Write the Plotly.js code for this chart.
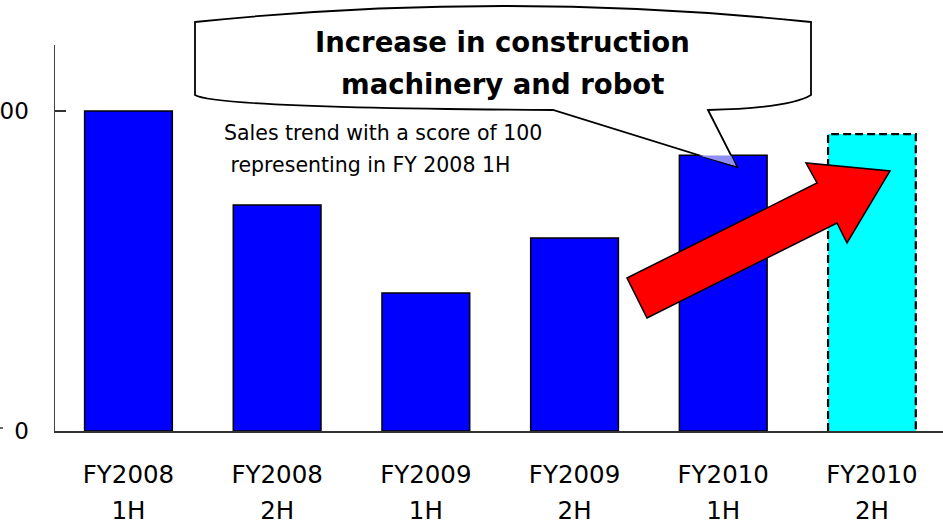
<!DOCTYPE html>
<html>
<head>
<meta charset="utf-8">
<script src="https://cdn.plot.ly/plotly-3.0.1.min.js"></script>
<style>html,body{margin:0;padding:0;background:#fff;}#chart{width:943px;height:523px;}</style>
</head>
<body>
<div id="chart"></div>
<script>
// ---- data ----
const periodYear = ["FY2008", "FY2008", "FY2009", "FY2009", "FY2010", "FY2010"];
const periodHalf = ["1H", "2H", "1H", "2H", "1H", "2H"];
const salesIndex = [100, 70.6, 43.1, 60.3, 86.2, 92.8];
const forecastFlag = [false, false, false, false, false, true];
const yTickVals = [0, 100];
const yTickText = ["0", "100"];
const calloutLines = ["Increase in construction", "machinery and robot"];
const noteLines = ["Sales trend with a score of 100", " representing in FY 2008 1H"];

// ---- layout helpers (pixel -> paper) ----
const L = 55, T = 45, W = 888, H = 386;
const X = px => (px - L) / W;
const Y = py => (T + H - py) / H;
const P = (px, py) => X(px).toFixed(5) + "," + Y(py).toFixed(5);

const idx = periodYear.map((_, i) => i);
const actualIdx = idx.filter(i => !forecastFlag[i]);
const fcIdx = idx.filter(i => forecastFlag[i]);
const BW = 0.59;
const XR = [-0.494, 5.478];

const font = "'DejaVu Sans', 'Noto Sans', sans-serif";

const traces = [
  {
    type: "bar",
    x: actualIdx,
    y: actualIdx.map(i => salesIndex[i]),
    width: BW,
    marker: { color: "#0000ff", line: { color: "#000000", width: 1.5 } },
    hoverinfo: "skip",
    showlegend: false
  },
  {
    type: "bar",
    x: fcIdx,
    y: fcIdx.map(i => salesIndex[i]),
    width: BW,
    marker: { color: "#00ffff", line: { width: 0 } },
    hoverinfo: "skip",
    showlegend: false
  }
];
// dashed outline of forecast bar, built from the same data
fcIdx.forEach(i => {
  const v = salesIndex[i];
  traces.push({
    type: "scatter",
    mode: "lines",
    x: [i - BW / 2, i - BW / 2, i + BW / 2, i + BW / 2],
    y: [0, v, v, 0],
    line: { color: "#000000", width: 2.2, dash: "8px,4px" },
    hoverinfo: "skip",
    showlegend: false,
    cliponaxis: false
  });
});
// invisible trace for the second-line label axis
traces.push({
  type: "scatter", mode: "markers", x: idx, y: salesIndex, xaxis: "x2",
  marker: { opacity: 0 }, hoverinfo: "skip", showlegend: false
});

const shapes = [
  // callout bubble
  {
    type: "path", xref: "paper", yref: "paper", layer: "above",
    path: "M " + P(195, 22) + " Q " + P(503, -10) + " " + P(811, 22) +
          " L " + P(811, 95) + " Q " + P(790, 108) + " " + P(708, 110) +
          " L " + P(737, 167) + " L " + P(553, 110) +
          " Q " + P(216, 108) + " " + P(195, 95) + " Z",
    fillcolor: "#ffffff", line: { color: "#000000", width: 1.8 }
  },
  // tail overlapping bar (hatched in the original)
  {
    type: "path", xref: "paper", yref: "paper", layer: "above",
    path: "M " + P(699, 155.5) + " L " + P(731, 155.5) + " L " + P(736, 166) + " Z",
    fillcolor: "#8f8ff5", line: { width: 0 }
  },
  // red block arrow
  {
    type: "path", xref: "paper", yref: "paper", layer: "above",
    path: "M " + P(627, 278) + " L " + P(817, 183) + " L " + P(806, 163) +
          " L " + P(890, 171) + " L " + P(847, 243) + " L " + P(837, 223) +
          " L " + P(647, 318) + " Z",
    fillcolor: "#ff0000", line: { color: "#000000", width: 1.5 }
  },
  // stray tick at far left
  {
    type: "line", xref: "paper", yref: "paper", layer: "above",
    x0: X(0), x1: X(3), y0: Y(428), y1: Y(428),
    line: { color: "#000000", width: 1.2 }
  }
];

const annotations = [
  { text: "<b>" + calloutLines[0] + "</b>", x: X(503), y: Y(42), font: { size: 27.5 } },
  { text: "<b>" + calloutLines[1] + "</b>", x: X(503), y: Y(84), font: { size: 27.5 } },
  { text: noteLines[0], x: X(222), y: Y(133), xanchor: "left", font: { size: 20.5 } },
  { text: noteLines[1], x: X(222), y: Y(165), xanchor: "left", font: { size: 20.5 } }
].map(a => Object.assign({
  xref: "paper", yref: "paper", showarrow: false, xanchor: "center", yanchor: "middle"
}, a, { font: Object.assign({ family: font, color: "#000000" }, a.font) }));

const layout = {
  width: 943, height: 523,
  margin: { l: L, r: 0, t: T, b: 523 - T - H, pad: 0 },
  paper_bgcolor: "#ffffff", plot_bgcolor: "#ffffff",
  font: { family: font, color: "#000000" },
  showlegend: false,
  xaxis: {
    type: "linear", range: XR, fixedrange: true,
    tickmode: "array", tickvals: idx, ticktext: periodYear,
    ticks: "", showgrid: false, zeroline: false,
    showline: true, linecolor: "#333333", linewidth: 1.5,
    tickfont: { size: 24.5, family: font, color: "#000000" },
    ticklabelstandoff: 21
  },
  xaxis2: {
    type: "linear", range: XR, fixedrange: true,
    overlaying: "x", anchor: "y", side: "bottom",
    tickmode: "array", tickvals: idx, ticktext: periodHalf,
    ticks: "", showgrid: false, zeroline: false, showline: false,
    tickfont: { size: 24.5, family: font, color: "#000000" },
    ticklabelstandoff: 62
  },
  yaxis: {
    range: [0, H / 3.2], fixedrange: true,
    tickmode: "array", tickvals: yTickVals, ticktext: yTickText,
    ticks: "inside", ticklen: 11, tickwidth: 1.3, tickcolor: "#333333",
    showgrid: false, zeroline: false,
    showline: true, linecolor: "#444444", linewidth: 1.5,
    tickfont: { size: 23, family: font, color: "#000000" },
    ticklabelstandoff: 20
  },
  shapes: shapes,
  annotations: annotations
};

Plotly.newPlot("chart", traces, layout, { staticPlot: true, displayModeBar: false });
</script>
</body>
</html>
